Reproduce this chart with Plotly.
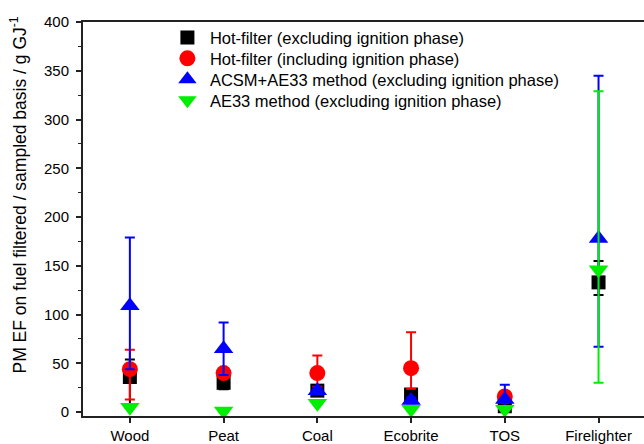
import plotly.graph_objects as go

# Fuel categories on the x axis
fuels = ["Wood", "Peat", "Coal", "Ecobrite", "TOS", "Firelighter"]
xpos = [1, 2, 3, 4, 5, 6]

# PM emission factors (g GJ^-1) with upper / lower error extents
hot_excl = [36, 30, 22, 18, 6, 133]
hot_excl_plus = [18, 6, 4, 4, 3, 22]
hot_excl_minus = [29, 6.5, 4, 4, 3, 13]

hot_incl = [44, 40, 40, 45, 16, None]
hot_incl_plus = [20, 5, 18, 37, 4, 0]
hot_incl_minus = [31, 5, 14, 21, 4, 0]

acsm_ae33 = [109, 65, 22, 12, 13, 178]
acsm_ae33_plus = [70, 27, 3, 3, 15, 167]
acsm_ae33_minus = [65, 27, 3, 3, 8, 111]

ae33 = [5, 1, 9, 3, 3, 146]
ae33_plus = [1, 1, 1, 1, 1, 183]
ae33_minus = [1, 1, 1, 1, 1, 116]

series = [
    ("Hot-filter (excluding ignition phase)", hot_excl, hot_excl_plus, hot_excl_minus,
     "#000000", "square", 14),
    ("Hot-filter (including ignition phase)", hot_incl, hot_incl_plus, hot_incl_minus,
     "#ff0000", "circle", 16),
    ("ACSM+AE33 method (excluding ignition phase)", acsm_ae33, acsm_ae33_plus, acsm_ae33_minus,
     "#0000ff", "triangle-up", 17),
    ("AE33 method (excluding ignition phase)", ae33, ae33_plus, ae33_minus,
     "#00ee00", "triangle-down", 17),
]

font_family = "Arial, Liberation Sans, sans-serif"

# one legend box per series so the rows sit at a tight, even spacing
legend_ids = ["legend", "legend2", "legend3", "legend4"]
row_y = [0.96, 0.907, 0.854, 0.801]

fig = go.Figure()
for (name, vals, plus, minus, color, symbol, size), lid in zip(series, legend_ids):
    fig.add_trace(go.Scatter(
        x=xpos, y=vals, name=name, mode="markers", legend=lid,
        marker=dict(symbol=symbol, size=size, color=color, line=dict(width=0)),
        error_y=dict(type="data", symmetric=False, array=plus, arrayminus=minus,
                     color=color, thickness=2, width=5),
        cliponaxis=False,
    ))

legend_style = dict(
    x=0.146, xanchor="left", yanchor="middle",
    bgcolor="rgba(0,0,0,0)", borderwidth=0,
    font=dict(size=16.5, family=font_family),
    itemwidth=35,
)
legends = {lid: dict(legend_style, y=yy) for lid, yy in zip(legend_ids, row_y)}

fig.update_layout(
    width=644, height=444,
    margin=dict(l=83, r=0, t=22, b=25),
    paper_bgcolor="white", plot_bgcolor="white",
    font=dict(family=font_family, color="#000000"),
    showlegend=True,
    xaxis=dict(
        range=[0.5, 6.485],
        tickmode="array", tickvals=xpos, ticktext=fuels,
        ticks="outside", ticklen=5, tickwidth=1.5, tickcolor="#222",
        showline=True, linecolor="#222", linewidth=2, mirror=True,
        showgrid=False, zeroline=False,
        tickfont=dict(size=15),
    ),
    yaxis=dict(
        range=[-4, 400],
        tickmode="array", tickvals=[0, 50, 100, 150, 200, 250, 300, 350, 400],
        ticks="outside", ticklen=5, tickwidth=1.5, tickcolor="#222",
        ticklabelstandoff=4,
        minor=dict(tickvals=[25, 75, 125, 175, 225, 275, 325, 375],
                   ticks="outside", ticklen=3, tickwidth=1, tickcolor="#222"),
        showline=True, linecolor="#222", linewidth=2,
        showgrid=False, zeroline=False,
        tickfont=dict(size=15),
    ),
    annotations=[dict(
        text="PM EF on fuel filtered / sampled basis / g GJ<sup>-1</sup>",
        xref="paper", yref="paper", x=-0.116, y=0.562,
        xanchor="center", yanchor="middle", textangle=-90,
        showarrow=False, font=dict(size=17.5, family=font_family),
    )],
    **legends,
)

fig.write_html("out.html")
